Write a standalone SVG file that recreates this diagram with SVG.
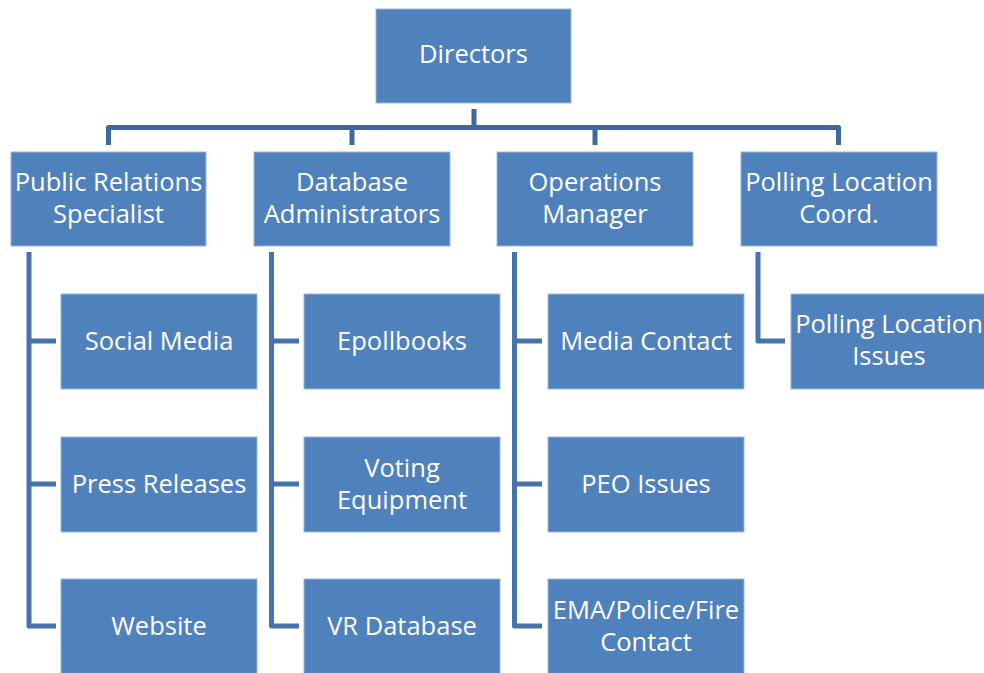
<svg xmlns="http://www.w3.org/2000/svg" width="984" height="673" viewBox="0 0 984 673">
  <style>
    .box { fill: #4F81BD; stroke: #9DB8DA; stroke-width: 1; }
    .lbl { fill: #FFFFFF; font-family: "Open Sans", "Liberation Sans", sans-serif; font-size: 25.5px; text-anchor: middle; }
    .bus { fill: none; stroke: #41689C; stroke-width: 5; stroke-linejoin: round; }
    .sub { fill: none; stroke: #4673AC; stroke-width: 5; stroke-linejoin: round; }
  </style>
  <rect width="984" height="673" fill="#FFFFFF"/>

  <!-- connectors -->
  <g id="connectors">
    <path class="bus" d="M474 109 V127.5"/>
    <path class="bus" d="M108.5 145 V127.5 H838.5 V145"/>
    <path class="bus" d="M352 127.5 V145"/>
    <path class="bus" d="M595 127.5 V145"/>
    <!-- Public Relations branch -->
    <path class="sub" d="M29 252 V626 H56"/>
    <path class="sub" d="M29 341 H56 M29 484 H56"/>
    <!-- Database branch -->
    <path class="sub" d="M271.5 252 V626 H299"/>
    <path class="sub" d="M271.5 341 H299 M271.5 484 H299"/>
    <!-- Operations branch -->
    <path class="sub" d="M514.5 252 V626 H542"/>
    <path class="sub" d="M514.5 341 H542 M514.5 484 H542"/>
    <!-- Polling location branch -->
    <path class="sub" d="M758 252 V341 H785"/>
  </g>

  <g id="directors">
    <rect class="box" x="376" y="9" width="195" height="94"/>
    <text class="lbl" x="473.5" y="63">Directors</text>
  </g>

  <g id="public-relations">
    <rect class="box" x="11" y="152" width="195" height="94"/>
    <text class="lbl" x="108.5" y="191">Public Relations</text>
    <text class="lbl" x="108.5" y="223">Specialist</text>
  </g>
  <g id="database-admins">
    <rect class="box" x="254" y="152" width="196" height="94"/>
    <text class="lbl" x="352" y="191">Database</text>
    <text class="lbl" x="352" y="223">Administrators</text>
  </g>
  <g id="operations-manager">
    <rect class="box" x="497" y="152" width="196" height="94"/>
    <text class="lbl" x="595" y="191">Operations</text>
    <text class="lbl" x="595" y="223">Manager</text>
  </g>
  <g id="polling-coord">
    <rect class="box" x="741" y="152" width="196" height="94"/>
    <text class="lbl" x="839" y="191">Polling Location</text>
    <text class="lbl" x="839" y="223">Coord.</text>
  </g>

  <g id="social-media">
    <rect class="box" x="61" y="294" width="196" height="95"/>
    <text class="lbl" x="159" y="350">Social Media</text>
  </g>
  <g id="press-releases">
    <rect class="box" x="61" y="437" width="196" height="95"/>
    <text class="lbl" x="159" y="493">Press Releases</text>
  </g>
  <g id="website">
    <rect class="box" x="61" y="579" width="196" height="95"/>
    <text class="lbl" x="159" y="635">Website</text>
  </g>

  <g id="epollbooks">
    <rect class="box" x="304" y="294" width="196" height="95"/>
    <text class="lbl" x="402" y="350">Epollbooks</text>
  </g>
  <g id="voting-equipment">
    <rect class="box" x="304" y="437" width="196" height="95"/>
    <text class="lbl" x="402" y="477">Voting</text>
    <text class="lbl" x="402" y="509">Equipment</text>
  </g>
  <g id="vr-database">
    <rect class="box" x="304" y="579" width="196" height="95"/>
    <text class="lbl" x="402" y="635">VR Database</text>
  </g>

  <g id="media-contact">
    <rect class="box" x="548" y="294" width="196" height="95"/>
    <text class="lbl" x="646" y="350">Media Contact</text>
  </g>
  <g id="peo-issues">
    <rect class="box" x="548" y="437" width="196" height="95"/>
    <text class="lbl" x="646" y="493">PEO Issues</text>
  </g>
  <g id="ema-contact">
    <rect class="box" x="548" y="579" width="196" height="95"/>
    <text class="lbl" x="646" y="619">EMA/Police/Fire</text>
    <text class="lbl" x="646" y="651">Contact</text>
  </g>

  <g id="polling-issues">
    <rect class="box" x="791" y="294" width="196" height="95"/>
    <text class="lbl" x="889" y="333">Polling Location</text>
    <text class="lbl" x="889" y="365">Issues</text>
  </g>
</svg>
